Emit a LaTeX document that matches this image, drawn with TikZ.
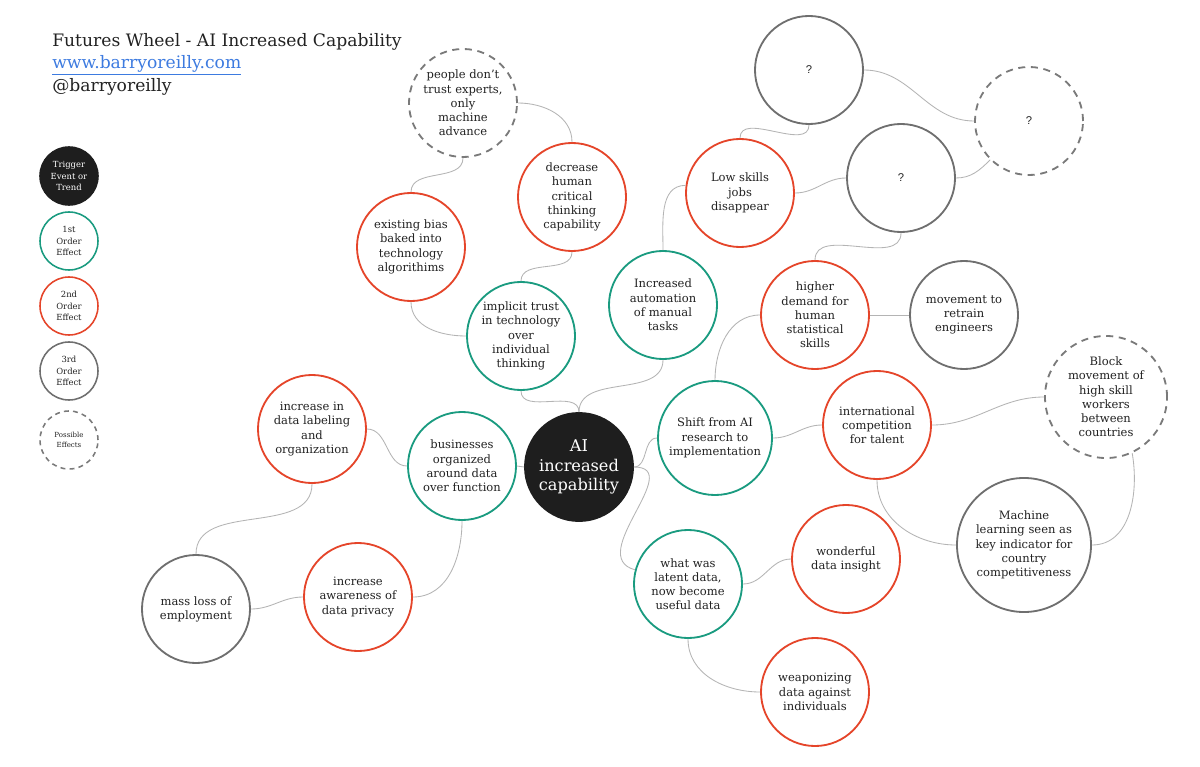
\documentclass[tikz,border=0pt]{standalone}
\usepackage{fontspec}
\setmainfont{DejaVu Serif}
\newfontfamily\qfont{Liberation Sans}
\definecolor{cgreen}{HTML}{1A9B80}
\definecolor{cred}{HTML}{E5452A}
\definecolor{cgray}{HTML}{6F6F6F}
\definecolor{cdash}{HTML}{7A7A7A}
\definecolor{cconn}{HTML}{B4B4B4}
\definecolor{cblack}{HTML}{1E1E1E}
\definecolor{ctxt}{HTML}{222222}
\definecolor{clink}{HTML}{3D7BE0}
\newcommand{\nfont}{\fontsize{8.2}{10.1}\selectfont}
\begin{document}
\begin{tikzpicture}[x=0.025cm,y=-0.025cm,
  base/.style={circle, inner sep=0pt, minimum size=2.7cm, align=center, line width=1.3pt, fill=white, text=ctxt, font=\nfont},
  first/.style={base, draw=cgreen},
  second/.style={base, draw=cred},
  third/.style={base, draw=cgray},
  possible/.style={base, draw=cdash, dash pattern=on 5pt off 4pt},
  trigger/.style={base, draw=cblack, fill=cblack, text=white},
  legendsize/.style={minimum size=1.45cm, line width=1.1pt},
  conn/.style={draw=cconn, line width=0.6pt},
  qmark/.style={font=\qfont\fontsize{8}{10}\selectfont}
]
\useasboundingbox[fill=white] (0,0) rectangle (1200,767);

% title
\node[anchor=base west, inner sep=0pt, text=ctxt, font=\fontsize{12.2}{15}\selectfont] (title) at (52,47) {Futures Wheel - AI Increased Capability};
\node[anchor=base west, inner sep=0pt, text=clink, font=\fontsize{12.2}{15}\selectfont] (link) at (52,69) {\underline{www.barryoreilly.com}};
\node[anchor=base west, inner sep=0pt, text=ctxt, font=\fontsize{12.2}{15}\selectfont] (handle) at (52,92) {@barryoreilly};

% legend
\node[trigger, legendsize, font=\fontsize{6}{8}\selectfont] (lg0) at (69,176) {Trigger\\Event or\\Trend};
\node[first, legendsize, font=\fontsize{6}{8}\selectfont] (lg1) at (69,241) {1st\\Order\\Effect};
\node[second, legendsize, font=\fontsize{6}{8}\selectfont] (lg2) at (69,306) {2nd\\Order\\Effect};
\node[third, legendsize, font=\fontsize{6}{8}\selectfont] (lg3) at (69,371) {3rd\\Order\\Effect};
\node[possible, legendsize, dash pattern=on 3.5pt off 3pt, font=\fontsize{5}{7}\selectfont] (lg4) at (69,440) {Possible\\Effects};

% main nodes
\node[trigger, font=\fontsize{11.5}{13.6}\selectfont] (ai) at (579,467) {AI\\increased\\capability};
\node[first] (impl) at (521,336) {implicit trust\\in technology\\over\\individual\\thinking};
\node[second] (decr) at (572,197) {decrease\\human\\critical\\thinking\\capability};
\node[second] (bias) at (411,247) {existing bias\\baked into\\technology\\algorithims};
\node[possible] (people) at (463,103) {people don't\\trust experts,\\only\\machine\\advance};
\node[first] (auto) at (663,305) {Increased\\automation\\of manual\\tasks};
\node[second] (low) at (740,193) {Low skills\\jobs\\disappear};
\node[third, qmark] (q1) at (809,70) {?};
\node[third, qmark] (q2) at (901,178) {?};
\node[possible, qmark] (q3) at (1029,121) {?};
\node[second] (higher) at (815,315) {higher\\demand for\\human\\statistical\\skills};
\node[third] (retrain) at (964,315) {movement to\\retrain\\engineers};
\node[first, minimum size=2.85cm] (shift) at (715,438) {Shift from AI\\research to\\implementation};
\node[second] (intl) at (877,425) {international\\competition\\for talent};
\node[possible, minimum size=3.05cm] (block) at (1106,397) {Block\\movement of\\high skill\\workers\\between\\countries};
\node[third, minimum size=3.35cm] (machine) at (1024,545) {Machine\\learning seen as\\key indicator for\\country\\competitiveness};
\node[first] (latent) at (688,584) {what was\\latent data,\\now become\\useful data};
\node[second] (wonder) at (846,559) {wonderful\\data insight};
\node[second] (weapon) at (815,692) {weaponizing\\data against\\individuals};
\node[first] (biz) at (462,466) {businesses\\organized\\around data\\over function};
\node[second] (label) at (312,429) {increase in\\data labeling\\and\\organization};
\node[second] (aware) at (358,597) {increase\\awareness of\\data privacy};
\node[third] (mass) at (196,609) {mass loss of\\employment};

% connectors
\draw[conn] (ai.north) to[out=90,in=-90] (impl.south);
\draw[conn] (ai.north) to[out=90,in=-90] (auto.south);
\draw[conn] (impl.north) to[out=90,in=-90] (decr.south);
\draw[conn] (impl.west) to[out=180,in=-90] (bias.south);
\draw[conn] (bias.north) to[out=90,in=-90] (people.south);
\draw[conn] (decr.north) to[out=90,in=0] (people.east);
\draw[conn] (auto.north) to[out=90,in=180] (low.172);
\draw[conn] (low.north) to[out=90,in=-90] (q1.south);
\draw[conn] (low.east) to[out=0,in=180] (q2.west);
\draw[conn] (q1.east) to[out=0,in=180] (q3.west);
\draw[conn] (q2.east) to[out=0,in=225] (q3.225);
\draw[conn] (q2.south) to[out=-90,in=90] (higher.north);
\draw[conn] (higher.east) -- (retrain.west);
\draw[conn] (higher.west) to[out=180,in=90] (shift.north);
\draw[conn] (ai.east) to[out=0,in=180] (shift.west);
\draw[conn] (ai.east) to[out=0,in=165,looseness=1.3] (latent.165);
\draw[conn] (shift.east) to[out=0,in=180] (intl.west);
\draw[conn] (intl.east) to[out=0,in=180] (block.west);
\draw[conn] (intl.south) to[out=-90,in=180] (machine.west);
\draw[conn] (machine.east) to[out=0,in=-80] (block.-65);
\draw[conn] (latent.east) to[out=0,in=180] (wonder.west);
\draw[conn] (latent.south) to[out=-90,in=180] (weapon.west);
\draw[conn] (ai.west) -- (biz.east);
\draw[conn] (biz.west) to[out=180,in=0] (label.east);
\draw[conn] (biz.south) to[out=-90,in=0] (aware.east);
\draw[conn] (aware.west) to[out=180,in=0] (mass.east);
\draw[conn] (label.south) to[out=-90,in=90] (mass.north);
\end{tikzpicture}
\end{document}
